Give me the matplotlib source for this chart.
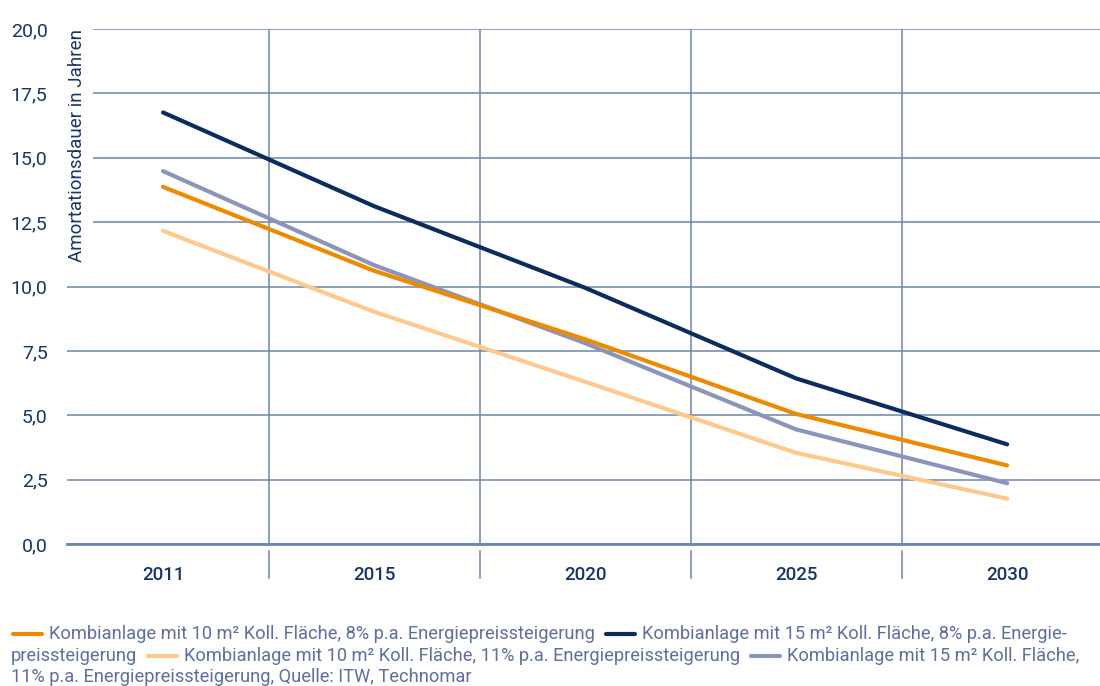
import matplotlib
matplotlib.use('Agg')
import matplotlib.pyplot as plt
import matplotlib.transforms as mtransforms
from matplotlib.lines import Line2D

years = ['2011', '2015', '2020', '2025', '2030']
k10_8 = [13.87, 10.61, 7.95, 5.05, 3.05]    # orange
k15_8 = [16.76, 13.12, 9.95, 6.43, 3.87]    # navy
k10_11 = [12.16, 9.02, 6.30, 3.54, 1.76]    # light orange
k15_11 = [14.48, 10.83, 7.80, 4.45, 2.36]   # grey blue
yticks = [0, 2.5, 5, 7.5, 10, 12.5, 15, 17.5, 20]

ORANGE = '#ee8a00'
NAVY = '#0b2c5c'
LIGHT = '#fdc98c'
GREYBLUE = '#8b95ba'
GRID = '#6c86ad'
TICKCOL = '#1a3563'
LEGCOL = '#5f6f99'

plt.rcParams['font.family'] = ['Roboto', 'DejaVu Sans']

W, H = 1100, 686
fig = plt.figure(figsize=(11, 6.86), dpi=100)
ax = fig.add_axes([67 / W, 1 - 544 / H, (W - 67) / W, (544 - 29) / H])

x = list(range(len(years)))
ax.plot(x, k10_11, color=LIGHT, lw=3, solid_capstyle='round', zorder=3)
ax.plot(x, k15_11, color=GREYBLUE, lw=3, solid_capstyle='round', zorder=3)
ax.plot(x, k10_8, color=ORANGE, lw=3, solid_capstyle='round', zorder=4)
ax.plot(x, k15_8, color=NAVY, lw=3, solid_capstyle='round', zorder=5)

ax.set_xlim(-0.455, 4.44)
ax.set_ylim(0, 20)
ax.set_yticks(yticks)
ax.set_yticklabels([('%.1f' % v).replace('.', ',') for v in yticks])
ax.set_xticks(x)
ax.set_xticklabels(years, fontweight='medium')
ax.set_xticks([i + 0.5 for i in range(4)], minor=True)

ax.tick_params(axis='y', length=0, pad=14, labelsize=14, labelcolor=TICKCOL)
ax.tick_params(axis='x', which='major', length=0, pad=16, labelsize=13.5, labelcolor=TICKCOL)
ax.tick_params(axis='x', which='minor', length=0)

ax.grid(axis='y', color=GRID, lw=1.1, zorder=1)
ax.grid(axis='x', which='minor', color=GRID, lw=1.1, zorder=1)
ax.set_axisbelow(True)
for s in ['top', 'right', 'left']:
    ax.spines[s].set_visible(False)
ax.spines['bottom'].set_color(GRID)
ax.spines['bottom'].set_linewidth(2)

# separators below the axis
trans = mtransforms.blended_transform_factory(ax.transData, fig.transFigure)
for b in [i + 0.5 for i in range(4)]:
    ax.plot([b, b], [1 - 551 / H, 1 - 578 / H], color=GRID, lw=1.1,
            transform=trans, clip_on=False)

ax.text(10 / (W - 67), 1.0, 'Amortationsdauer in Jahren', rotation=90,
        transform=ax.transAxes, ha='center', va='top', fontsize=13.5,
        color=TICKCOL, zorder=6,
        bbox=dict(facecolor='white', edgecolor='none', pad=5))

# legend as flowing text
fig.canvas.draw()
renderer = fig.canvas.get_renderer()
fs = 13.15


def put_text(xpx, ypx, s):
    t = fig.text(xpx / W, 1 - ypx / H, s, fontsize=fs, color=LEGCOL,
                 ha='left', va='center')
    bb = t.get_window_extent(renderer)
    return bb.x1


def put_handle(xpx, ypx, col):
    fig.add_artist(Line2D([(xpx + 2) / W, (xpx + 31) / W], [1 - ypx / H, 1 - ypx / H],
                          color=col, lw=3, solid_capstyle='round',
                          transform=fig.transFigure))
    return xpx + 38


y1, y2, y3 = 634, 656, 677
xp = put_handle(11, y1, ORANGE)
xp = put_text(xp, y1, 'Kombianlage mit 10 m² Koll. Fläche, 8% p.a. Energiepreissteigerung')
xp = put_handle(xp + 9, y1, NAVY)
xp = put_text(xp, y1, 'Kombianlage mit 15 m² Koll. Fläche, 8% p.a. Energie-')

xp = put_text(11, y2, 'preissteigerung')
xp = put_handle(xp + 9, y2, LIGHT)
xp = put_text(xp, y2, 'Kombianlage mit 10 m² Koll. Fläche, 11% p.a. Energiepreissteigerung')
xp = put_handle(xp + 9, y2, GREYBLUE)
xp = put_text(xp, y2, 'Kombianlage mit 15 m² Koll. Fläche,')

put_text(11, y3, '11% p.a. Energiepreissteigerung, Quelle: ITW, Technomar')

fig.savefig('out.png', dpi=100)
